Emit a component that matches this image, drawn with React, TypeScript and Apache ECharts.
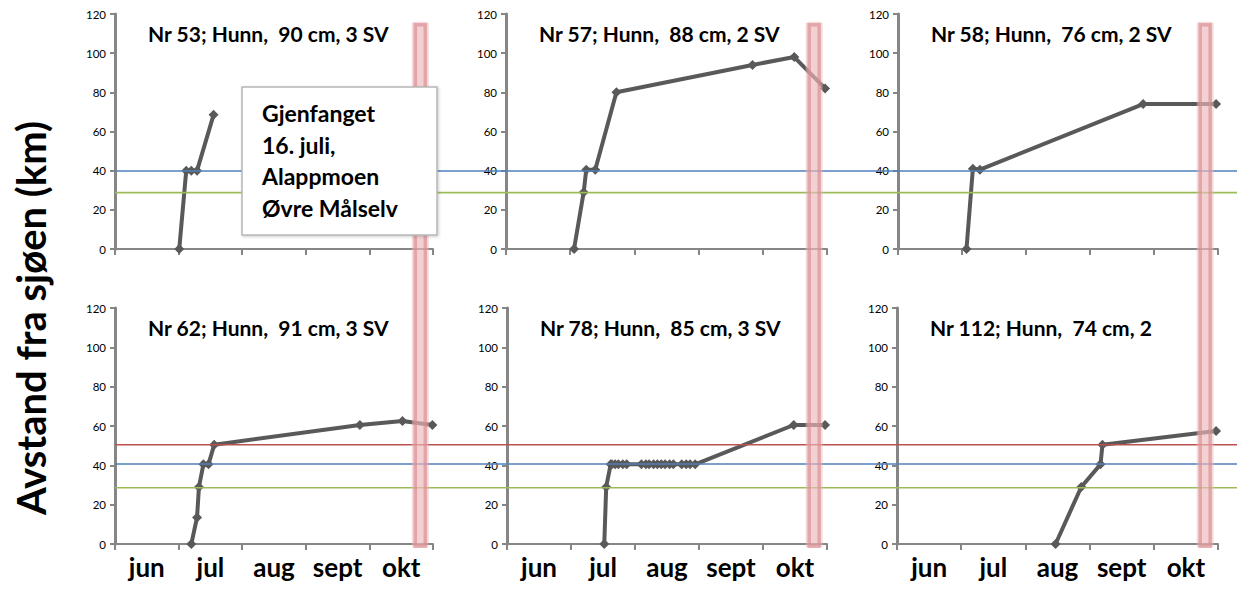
import React, { useEffect, useRef } from 'react';
import * as echarts from 'echarts';

// Months on the x axis; x values below are months after 1 June (1 = 1 jul, 2 = 1 aug ...)
const months = ['jun', 'jul', 'aug', 'sept', 'okt'];

const titles = [
  'Nr 53; Hunn,  90 cm, 3 SV',
  'Nr 57; Hunn,  88 cm, 2 SV',
  'Nr 58; Hunn,  76 cm, 2 SV',
  'Nr 62; Hunn,  91 cm, 3 SV',
  'Nr 78; Hunn,  85 cm, 3 SV',
  'Nr 112; Hunn,  74 cm, 2',
];

// Distance from the sea (km) per tagged fish
const fish53 = [[1.01, 0], [1.12, 40], [1.2, 40], [1.29, 40], [1.55, 68.5]];
const fish57 = [[1.06, 0], [1.21, 29], [1.25, 40.5], [1.39, 40.5], [1.72, 80], [3.84, 94], [4.49, 98], [4.97, 82]];
const fish58 = [[1.07, 0], [1.17, 41], [1.28, 40.5], [3.83, 74], [4.97, 74]];
const fish62 = [[1.2, 0], [1.29, 13.5], [1.32, 29], [1.39, 40.5], [1.47, 40.5], [1.56, 50.5], [3.85, 60.5], [4.52, 62.5], [4.99, 60.5]];
const fish78 = [
  [1.52, 0], [1.55, 29], [1.62, 40.5], [1.64, 40.5], [1.69, 40.5], [1.74, 40.5], [1.81, 40.5], [1.87, 40.5],
  [2.1, 40.5], [2.17, 40.5], [2.22, 40.5], [2.29, 40.5], [2.35, 40.5], [2.41, 40.5], [2.47, 40.5], [2.54, 40.5], [2.6, 40.5],
  [2.73, 40.5], [2.8, 40.5], [2.86, 40.5], [2.94, 40.5], [4.48, 60.5], [4.97, 60.5],
];
const fish112 = [[2.47, 0], [2.87, 29], [3.17, 40.5], [3.2, 50.5], [4.97, 57.5]];

const panels = [fish53, fish57, fish58, fish62, fish78, fish112];

// Reference levels (km) drawn across each row
const topRowLevels = [39.8, 28.8];
const topRowColors = ['#4f81bd', '#9bbb59'];
const bottomRowLevels = [50.5, 40.7, 28.6];
const bottomRowColors = ['#c0504d', '#4f81bd', '#9bbb59'];

// End of the fishing season marker (x in months) and its vertical extent (km)
const seasonEnd = 4.8;
const seasonBarTop = 115;
const seasonBarBottom = -2;

const noteLines = ['Gjenfanget', '16. juli,', 'Alappmoen', 'Øvre Målselv'];

const FONT = 'Lato, Carlito, "Open Sans", sans-serif';
const AXIS_GREY = '#868686';
const LINE_GREY = '#595959';

const gridBoxes = [
  { left: 115, top: 14, width: 318, height: 235 },
  { left: 506, top: 14, width: 321, height: 235 },
  { left: 898, top: 14, width: 320, height: 235 },
  { left: 115, top: 308, width: 318, height: 236 },
  { left: 507, top: 308, width: 320, height: 236 },
  { left: 897, top: 308, width: 321, height: 236 },
];

export default function App() {
  const ref = useRef<HTMLDivElement>(null);

  useEffect(() => {
    document.body.style.margin = '0';
    const chart = echarts.init(ref.current!, null, { renderer: 'svg' });

    const xAxes: any[] = gridBoxes.map((_, i) => ({
      type: 'value',
      gridIndex: i,
      min: 0,
      max: 5,
      interval: 1,
      position: 'bottom',
      axisLine: { show: true, onZero: false, lineStyle: { color: AXIS_GREY, width: 2 } },
      axisTick: { show: true, length: 6, lineStyle: { color: AXIS_GREY, width: 2 } },
      axisLabel: { show: false },
      splitLine: { show: false },
    }));
    // month names centred between the month ticks (bottom row only)
    [3, 4, 5].forEach((g) => {
      xAxes.push({
        type: 'category',
        gridIndex: g,
        data: months,
        boundaryGap: true,
        position: 'bottom',
        axisLine: { show: false, onZero: false },
        axisTick: { show: false },
        axisLabel: { interval: 0, fontSize: 26, fontWeight: 'bold', color: '#000', fontFamily: FONT, margin: 10 },
        splitLine: { show: false },
      });
    });

    const yAxes = gridBoxes.map((_, i) => ({
      type: 'value',
      gridIndex: i,
      min: 0,
      max: 120,
      interval: 20,
      axisLine: { show: true, lineStyle: { color: AXIS_GREY, width: 3 } },
      axisTick: { show: true, length: 5, lineStyle: { color: AXIS_GREY, width: 2 } },
      axisLabel: { fontSize: 11.5, color: '#000', fontFamily: FONT, margin: 9 },
      splitLine: { show: false },
    }));

    const series = panels.map((data, i) => ({
      type: 'line',
      xAxisIndex: i,
      yAxisIndex: i,
      data,
      symbol: 'diamond',
      symbolSize: 10,
      showSymbol: true,
      lineStyle: { color: LINE_GREY, width: 4 },
      itemStyle: { color: LINE_GREY },
      z: 2,
    }));

    chart.setOption({
      animation: false,
      grid: gridBoxes.map((b) => ({ ...b, containLabel: false })),
      xAxis: xAxes,
      yAxis: yAxes,
      series,
    });

    const px = (axis: number, v: number) => chart.convertToPixel({ xAxisIndex: axis }, v) as number;
    const py = (axis: number, v: number) => chart.convertToPixel({ yAxisIndex: axis }, v) as number;

    const graphic: any[] = [];
    const rowStart = px(0, 0);
    topRowLevels.forEach((lv, k) => {
      const y = py(0, lv);
      graphic.push({
        type: 'line', z: 10, silent: true,
        shape: { x1: rowStart, y1: y, x2: 1237, y2: y },
        style: { stroke: topRowColors[k], lineWidth: 1.6 },
      });
    });
    bottomRowLevels.forEach((lv, k) => {
      const y = py(3, lv);
      graphic.push({
        type: 'line', z: 10, silent: true,
        shape: { x1: rowStart, y1: y, x2: 1237, y2: y },
        style: { stroke: bottomRowColors[k], lineWidth: 1.6 },
      });
    });

    // season-end bars spanning both rows of each column
    [0, 1, 2].forEach((c) => {
      const cx = px(c, seasonEnd);
      const y1 = py(c, seasonBarTop);
      const y2 = py(c + 3, seasonBarBottom);
      graphic.push({
        type: 'rect', z: 20, silent: true,
        shape: { x: cx - 8.5, y: y1 - 2, width: 17, height: y2 - y1 + 2, r: 3 },
        style: { fill: 'rgba(238,185,187,0.5)' },
      });
      graphic.push({
        type: 'rect', z: 21, silent: true,
        shape: { x: cx - 5, y: y1 + 1, width: 10, height: y2 - y1 - 3 },
        style: { fill: 'rgba(236,185,188,0.3)', stroke: 'rgba(216,140,145,0.65)', lineWidth: 3.5 },
      });
    });

    // panel titles
    titles.forEach((t, i) => {
      const b = gridBoxes[i];
      graphic.push({
        type: 'text', z: 30, silent: true,
        style: {
          x: b.left + 33, y: b.top + 19,
          text: t, fill: '#000',
          font: `bold 21px ${FONT}`,
          textAlign: 'left', textVerticalAlign: 'middle',
        },
      });
    });

    // recapture note
    graphic.push({
      type: 'rect', z: 40, silent: true,
      shape: { x: 242, y: 87, width: 195, height: 148 },
      style: { fill: '#ffffff', stroke: '#b7b7b7', lineWidth: 1.5, shadowBlur: 3, shadowColor: 'rgba(0,0,0,0.2)', shadowOffsetX: 1, shadowOffsetY: 1 },
    });
    noteLines.forEach((t, k) => {
      graphic.push({
        type: 'text', z: 41, silent: true,
        style: {
          x: 262, y: 113 + k * 31.5,
          text: t, fill: '#000',
          font: `bold 23px ${FONT}`,
          textAlign: 'left', textVerticalAlign: 'middle',
        },
      });
    });

    // y axis title
    graphic.push({
      type: 'text', z: 30, silent: true,
      x: 31, y: 318, rotation: Math.PI / 2,
      style: {
        x: 0, y: 0,
        text: 'Avstand fra sjøen (km)', fill: '#000',
        font: `bold 40px ${FONT}`,
        textAlign: 'center', textVerticalAlign: 'middle',
      },
    });

    chart.setOption({ graphic });

    return () => chart.dispose();
  }, []);

  return <div ref={ref} style={{ width: 1237, height: 590, background: '#fff' }} />;
}
